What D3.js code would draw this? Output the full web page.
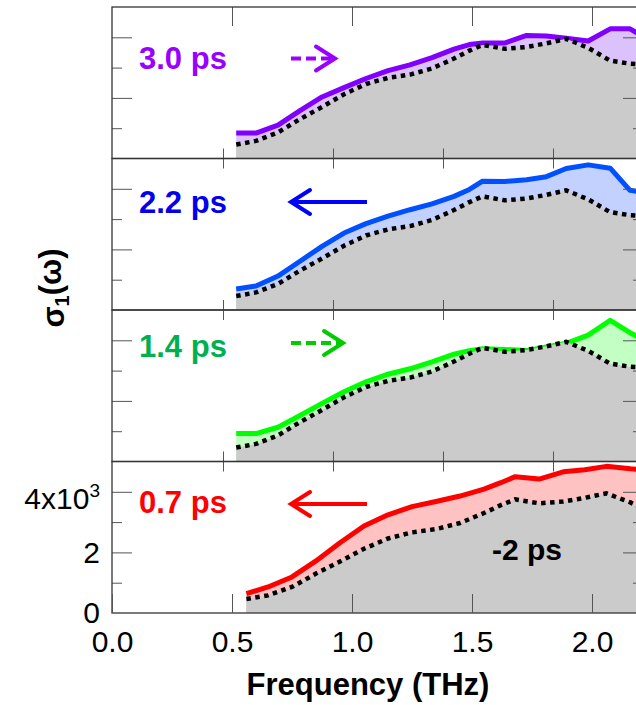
<!DOCTYPE html>
<html lang="en">
<head>
<meta charset="UTF-8">
<title>sigma1 pump-probe spectra</title>
<style>
  body { margin: 0; background: #fff; }
  svg { display: block; font-family: "Liberation Sans", Arial, sans-serif; }
</style>
</head>
<body>
<script src="https://d3js.org/d3.v7.min.js"></script>
<div id="chart"></div>
<script>
// frequency grid (THz) and sigma1 values (x10^3)
const freq = [0.56, 0.65, 0.75, 0.85, 0.95, 1.05, 1.15, 1.25, 1.35, 1.45, 1.55, 1.62, 1.68, 1.78, 1.88, 1.97, 2.06, 2.16, 2.26, 2.35, 2.44];
const ref  = [0.46, 0.58, 0.86, 1.30, 1.70, 2.12, 2.46, 2.66, 2.77, 2.97, 3.30, 3.56, 3.75, 3.62, 3.68, 3.80, 3.95, 3.65, 3.23, 3.13, 3.10];
const s30  = [0.84, 0.84, 1.10, 1.58, 2.03, 2.34, 2.64, 2.90, 3.09, 3.33, 3.61, 3.76, 3.81, 3.81, 4.06, 4.04, 3.97, 3.88, 4.28, 4.28, 3.90];
const s22  = [0.69, 0.79, 1.12, 1.61, 2.10, 2.54, 2.85, 3.10, 3.31, 3.50, 3.75, 3.98, 4.25, 4.24, 4.30, 4.40, 4.67, 4.79, 4.68, 3.95, 3.85];
const s14  = [0.92, 0.92, 1.13, 1.52, 1.92, 2.30, 2.63, 2.88, 3.06, 3.29, 3.54, 3.66, 3.72, 3.70, 3.66, 3.78, 3.90, 4.17, 4.66, 4.25, 3.90];
const s07  = [0.64, 0.86, 1.19, 1.72, 2.32, 2.87, 3.24, 3.51, 3.68, 3.86, 4.09, 4.30, 4.50, 4.42, 4.66, 4.73, 4.84, 4.76, 4.70, 4.60, 4.50];

const delays = ["3.0 ps", "2.2 ps", "1.4 ps", "0.7 ps"];
const arrowDir = ["right", "left", "right", "left"];
const refLabel = "-2 ps";

const xTicks = [0, 0.5, 1.0, 1.5, 2.0];
const yMajor = [2, 4];
const yMinor = [1, 3];
const yLabels = [0, 2, 4];

// styles
const lineCol = ["#8000ff", "#0050ff", "#00ff00", "#ff0000"];
const fillCol = ["#dbc2fb", "#c2d1ff", "#c2ffc2", "#ffc2c2"];
const textCol = ["#9900ff", "#0000ee", "#00b050", "#ff0000"];
const arrowCol = ["#9900ff", "#0000ff", "#00cc00", "#ff0000"];
const labelY = [62, 54.5, 47, 51.5];
const arrowY = [51.5, 43.5, 33, 42.5];
const arrowLen = [44, 76, 52, 76];

const series = [s30, s22, s14, s07];

const W = 636, H = 705;
const left = 112, right = 643, bottom = 613, ph = 151.5;

const svg = d3.select("#chart").append("svg")
    .attr("width", W)
    .attr("height", H);

// x scales: upper panels are slightly compressed
const xLow = d3.scaleLinear().domain([0, 2.2]).range([112, 640]);
const xUp  = d3.scaleLinear().domain([0, 2.4]).range([113, 641]);

const defs = svg.append("defs");

series.forEach(function(vals, i) {
  const top = bottom - ph * (4 - i);
  const bot = top + ph;
  const x = i === 3 ? xLow : xUp;
  const y = d3.scaleLinear().domain([0, 5]).range([bot, top]);
  const pts = freq.map((f, k) => ({f: f, v: vals[k], r: ref[k]}));

  defs.append("clipPath").attr("id", "clip" + i)
    .append("rect")
    .attr("x", left).attr("y", top)
    .attr("width", right - left).attr("height", ph);

  const g = svg.append("g").attr("clip-path", "url(#clip" + i + ")");

  g.append("path")
    .attr("d", d3.area().x(d => x(d.f)).y0(y(0)).y1(d => y(d.v))(pts))
    .attr("fill", fillCol[i]);

  g.append("path")
    .attr("d", d3.line().x(d => x(d.f)).y(d => y(d.v))(pts))
    .attr("fill", "none")
    .attr("stroke", lineCol[i])
    .attr("stroke-width", 5)
    .attr("stroke-linejoin", "round");

  g.append("path")
    .attr("d", d3.area().x(d => x(d.f)).y0(y(0)).y1(d => y(d.r))(pts))
    .attr("fill", "#cbcbcb");

  g.append("path")
    .attr("d", d3.line().x(d => x(d.f)).y(d => y(d.r))(pts))
    .attr("fill", "none")
    .attr("stroke", "#000")
    .attr("stroke-width", 4.5)
    .attr("stroke-dasharray", "4.5,4.5");

  // y ticks, left and right, pointing inward
  [[yMajor, 20], [yMinor, 10]].forEach(function(t) {
    svg.append("g").attr("class", "tk")
      .attr("transform", "translate(" + left + ",0)")
      .call(d3.axisLeft(y).tickValues(t[0]).tickSize(-t[1]).tickFormat(""));
    svg.append("g").attr("class", "tk")
      .attr("transform", "translate(" + right + ",0)")
      .call(d3.axisRight(y).tickValues(t[0]).tickSize(-t[1]).tickFormat(""));
  });

  // x ticks along panel edges
  if (i === 0) {
    svg.append("g").attr("class", "tk")
      .attr("transform", "translate(0," + top + ")")
      .call(d3.axisTop(xLow).tickValues(xTicks.slice(1)).tickSize(-19).tickFormat(""));
  } else {
    svg.append("g").attr("class", "tk")
      .attr("transform", "translate(0," + top + ")")
      .call(d3.axisTop(xUp).tickValues(xTicks.slice(1)).tickSize(-10).tickFormat(""));
  }
  if (i < 3) {
    svg.append("g").attr("class", "tk")
      .attr("transform", "translate(0," + bot + ")")
      .call(d3.axisBottom(xUp).tickValues(xTicks.slice(1)).tickSize(-10).tickFormat(""));
  }

  // frame
  svg.append("rect")
    .attr("x", left).attr("y", top)
    .attr("width", right - left).attr("height", ph)
    .attr("fill", "none")
    .attr("stroke", "#333")
    .attr("stroke-width", 1.3);

  // delay label
  svg.append("text")
    .attr("x", 139)
    .attr("y", top + labelY[i])
    .attr("fill", textCol[i])
    .style("font-size", "31px")
    .style("font-weight", "bold")
    .text(delays[i]);

  // arrow
  const ay = top + arrowY[i];
  const x0 = 291, x1 = 291 + arrowLen[i];
  const tip = arrowDir[i] === "right" ? x1 : x0;
  const back = arrowDir[i] === "right" ? -19 : 19;
  svg.append("line")
    .attr("x1", x0).attr("x2", x1).attr("y1", ay).attr("y2", ay)
    .attr("stroke", arrowCol[i])
    .attr("stroke-width", 4)
    .attr("stroke-dasharray", arrowDir[i] === "right" ? "10,5" : null);
  svg.append("path")
    .attr("d", "M" + (tip + back) + "," + (ay - 12) + "L" + tip + "," + ay + "L" + (tip + back) + "," + (ay + 12))
    .attr("fill", "none")
    .attr("stroke", arrowCol[i])
    .attr("stroke-width", 4)
    .attr("stroke-linecap", "round");

  if (i === 3) {
    // bottom axis with labels
    svg.append("g").attr("class", "tk lab")
      .attr("transform", "translate(0," + bot + ")")
      .call(d3.axisBottom(xLow).tickValues(xTicks).tickSize(-19).tickPadding(18)
        .tickFormat(d3.format(".1f")));

    const ya = svg.append("g").attr("class", "tk lab")
      .attr("transform", "translate(" + left + ",0)")
      .call(d3.axisLeft(y).tickValues(yLabels).tickSize(0).tickPadding(12).tickFormat(""));
    ya.selectAll(".tick text").each(function(d) {
      const t = d3.select(this);
      if (d === 4) {
        t.attr("dy", "0.55em");
        t.append("tspan").text("4x10");
        t.append("tspan").attr("dy", "-0.62em").style("font-size", "19px").text("3");
      } else {
        t.text(d);
      }
    });

    svg.append("text")
      .attr("x", 492)
      .attr("y", y(1.75))
      .style("font-size", "30px")
      .style("font-weight", "bold")
      .attr("fill", "#000")
      .text(refLabel);
  }
});

svg.selectAll(".tk .domain").remove();
svg.selectAll(".tk line").attr("stroke", "#555");
svg.selectAll(".lab text")
  .style("font-size", "30px")
  .style("font-family", "'Liberation Sans', Arial, sans-serif")
  .attr("fill", "#000");

// axis titles
svg.append("text")
  .attr("x", 368)
  .attr("y", 695)
  .attr("text-anchor", "middle")
  .style("font-size", "31px")
  .style("font-weight", "bold")
  .text("Frequency (THz)");

const yt = svg.append("text")
  .attr("transform", "translate(64,288) rotate(-90)")
  .attr("text-anchor", "middle")
  .style("font-size", "31px")
  .style("font-weight", "bold");
yt.append("tspan").text("σ");
yt.append("tspan").attr("dy", "0.25em").style("font-size", "20px").text("1");
yt.append("tspan").attr("dy", "-0.25em").text("(ω)");
</script>
</body>
</html>
